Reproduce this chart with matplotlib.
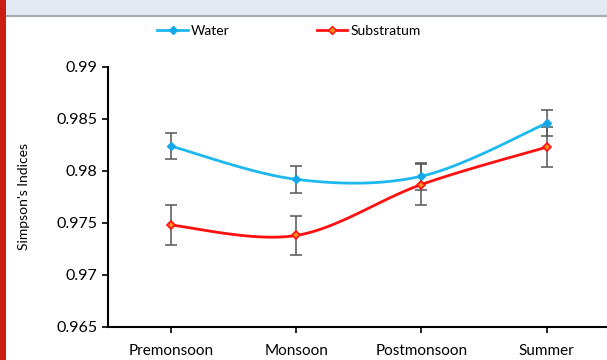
import numpy as np
import matplotlib.pyplot as plt
from matplotlib.patches import Rectangle
from matplotlib.lines import Line2D

plt.rcParams['font.family'] = ['Lato', 'DejaVu Sans']

# data
seasons = ['Premonsoon', 'Monsoon', 'Postmonsoon', 'Summer']
water = [0.9824, 0.9792, 0.9795, 0.9846]
water_err = [0.00125, 0.0013, 0.0013, 0.00128]
substratum = [0.9748, 0.9738, 0.9787, 0.9823]
substratum_err = [0.0019, 0.0019, 0.0020, 0.0019]
yticks = [0.965, 0.97, 0.975, 0.98, 0.985, 0.99]
ytick_labels = ['0.965', '0.97', '0.975', '0.98', '0.985', '0.99']


def smooth(x, y, n=40):
    # catmull-rom curve through the points (like excel "smoothed line")
    x = np.asarray(x, float)
    y = np.asarray(y, float)
    px = np.concatenate([[x[0]], x, [x[-1]]])
    py = np.concatenate([[y[0]], y, [y[-1]]])
    xs, ys = [], []
    for i in range(1, len(px) - 2):
        t = np.linspace(0, 1, n)
        for arr, out in ((px, xs), (py, ys)):
            p0, p1, p2, p3 = arr[i - 1], arr[i], arr[i + 1], arr[i + 2]
            out.extend(0.5 * (2 * p1 + (-p0 + p2) * t
                              + (2 * p0 - 5 * p1 + 4 * p2 - p3) * t ** 2
                              + (-p0 + 3 * p1 - 3 * p2 + p3) * t ** 3))
    return np.array(xs), np.array(ys)


fig = plt.figure(figsize=(6.07, 3.6), dpi=100)

# page decorations: header band and red side bar
fig.patches.append(Rectangle((0, 1 - 15 / 360), 1, 15 / 360, transform=fig.transFigure,
                             facecolor='#e4eaf2', edgecolor='none', zorder=0))
fig.lines.append(Line2D([0, 1], [1 - 16 / 360, 1 - 16 / 360], transform=fig.transFigure,
                        color='#a9aeb3', lw=1.6))
fig.patches.append(Rectangle((0, 0), 6 / 607, 1, transform=fig.transFigure,
                             facecolor='#cc1f14', edgecolor='none', zorder=5))

ax = fig.add_axes([108 / 607, 33 / 360, 501.5 / 607, 260 / 360])
x = np.arange(len(seasons))

blue = '#1db8ef'
red = '#ff1010'

sx, sy = smooth(x, water)
ax.plot(sx, sy, color=blue, lw=2, zorder=3)
ax.errorbar(x, water, yerr=water_err, fmt='none', ecolor='#555555', elinewidth=1.1,
            capsize=4, capthick=1.1, zorder=2)
ax.plot(x, water, 'D', color='#15a8e8', ms=4.5, mec='#15a8e8', zorder=4)

sx, sy = smooth(x, substratum)
ax.plot(sx, sy, color=red, lw=2, zorder=3)
ax.errorbar(x, substratum, yerr=substratum_err, fmt='none', ecolor='#555555',
            elinewidth=1.1, capsize=4, capthick=1.1, zorder=2)
ax.plot(x, substratum, 'D', color='#ff8c1a', ms=4.5, mec=red, mew=1.2, zorder=4)

ax.set_xlim(-0.5, 3.5)
ax.set_ylim(0.965, 0.99)
ax.set_xticks(x)
ax.set_xticklabels(seasons, fontsize=11)
ax.set_yticks(yticks)
ax.set_yticklabels(ytick_labels, fontsize=11.5)
ax.set_ylabel("Simpson's Indices", fontsize=10, labelpad=19)
ax.spines['top'].set_visible(False)
ax.spines['right'].set_visible(False)
ax.spines['left'].set_linewidth(1.5)
ax.spines['bottom'].set_linewidth(1.5)
ax.tick_params(axis='both', direction='out', length=4, width=1.2, color='black')
ax.tick_params(axis='x', pad=8.5)

handles = [Line2D([], [], color=blue, lw=2, marker='D', ms=4, mfc='#15a8e8', mec='#15a8e8'),
           Line2D([], [], color=red, lw=2, marker='D', ms=4, mfc='#ff8c1a', mec=red)]
fig.legend(handles, ['Water', 'Substratum'], loc='center', bbox_to_anchor=(0.476, 1 - 31 / 360),
           ncol=2, frameon=False, fontsize=10, handlelength=2.2, handletextpad=0.2,
           columnspacing=6.3)

fig.savefig('out.png', dpi=100)
